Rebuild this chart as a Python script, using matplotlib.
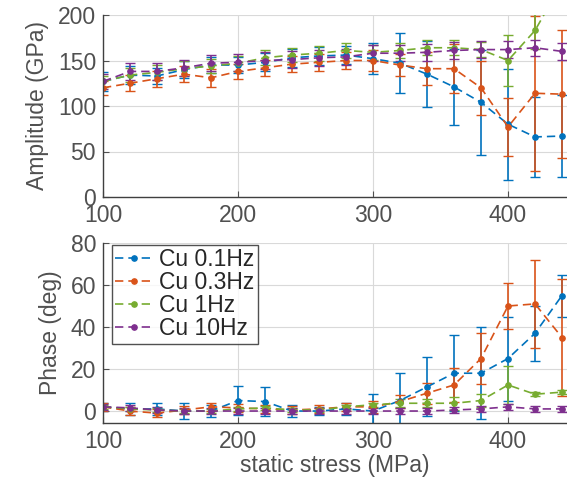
import matplotlib
matplotlib.use('Agg')
import matplotlib.pyplot as plt
import numpy as np

plt.rcParams['font.family'] = ['Liberation Sans', 'DejaVu Sans']

stress = [100, 120, 140, 160, 180, 200, 220, 240, 260, 280, 300, 320, 340, 360, 380, 400, 420, 440]
labels = ['Cu 0.1Hz', 'Cu 0.3Hz', 'Cu 1Hz', 'Cu 10Hz']
colors = ['#0072BD', '#D95319', '#77AC30', '#7E2F8E']

# amplitude (GPa)
amp_01 = [127, 134, 133, 140, 145, 145, 148, 153, 155, 156, 152, 147, 135, 121, 104, 80, 66, 67]
amp_01_err = [10, 10, 9, 9, 9, 9, 10, 10, 10, 10, 17, 33, 36, 42, 58, 61, 44, 45]
amp_03 = [120, 125, 130, 135, 131, 138, 142, 146, 148, 150, 150, 145, 141, 141, 120, 77, 114, 113]
amp_03_err = [8, 9, 9, 9, 10, 8, 9, 9, 9, 9, 12, 12, 18, 27, 30, 32, 85, 70]
amp_1 = [127, 134, 137, 141, 144, 147, 153, 156, 158, 161, 159, 161, 164, 164, 162, 150, 183, 235]
amp_1_err = [6, 8, 8, 8, 8, 8, 8, 8, 8, 8, 8, 8, 8, 8, 8, 28, 20, 20]
amp_10 = [127, 138, 138, 142, 147, 148, 150, 151, 153, 154, 158, 158, 159, 161, 162, 162, 164, 160]
amp_10_err = [8, 9, 9, 9, 9, 9, 9, 9, 9, 9, 9, 9, 9, 9, 9, 9, 9, 9]

# phase (deg)
ph_01 = [2, 1, 1, 0, 0, 5, 4.5, 0, 0, 1, 0, 5, 11.5, 18, 18, 25, 37, 55]
ph_01_err = [2, 3, 3, 4, 3, 7, 7, 3, 2, 3, 8, 13, 14, 18, 22, 20, 13, 10]
ph_03 = [2, 0, -1, 0.5, 2, 1.5, 1, 0.5, 1, 2, 2, 4.5, 8.5, 12.4, 25, 50, 51, 35]
ph_03_err = [2, 2, 2, 2, 2, 2, 2, 2, 2, 2, 3, 3, 5, 8, 12, 11, 21, 28]
ph_1 = [2, 1, 0.5, 0, 0, 1, 1.5, 0.5, 0.5, 2, 3, 3.7, 3.7, 3.7, 5, 12.4, 8, 9]
ph_1_err = [1, 1, 1, 1, 1, 1, 1, 1, 1, 1, 1, 2, 2, 3, 3, 9, 1, 1]
ph_10 = [2, 1.5, 0.5, 0, 0, 0, 0, 0, 0, 0, 0, 0, 0, 0.5, 1, 2, 1, 1]
ph_10_err = [1.5] * 18

amps = [(amp_01, amp_01_err), (amp_03, amp_03_err), (amp_1, amp_1_err), (amp_10, amp_10_err)]
phases = [(ph_01, ph_01_err), (ph_03, ph_03_err), (ph_1, ph_1_err), (ph_10, ph_10_err)]

txt = '#505050'
fig = plt.figure(figsize=(5.67, 4.8), dpi=100)
ax1 = fig.add_axes([103 / 567, 1 - 197 / 480, 464 / 567, 182 / 480])
ax2 = fig.add_axes([103 / 567, 1 - 423 / 480, 464 / 567, 180 / 480])


def draw(ax, series):
    for (y, e), c, lab in zip(series, colors, labels):
        ax.errorbar(stress, y, yerr=e, color=c, linestyle='--', linewidth=1.2,
                    marker='o', markersize=3.8, capsize=3.5, elinewidth=1.2,
                    label=lab, dashes=(5, 3))
    ax.grid(True, color='#d9d9d9', linewidth=0.8)
    ax.set_axisbelow(True)
    for s in ['top', 'right']:
        ax.spines[s].set_visible(False)
    for s in ['left', 'bottom']:
        ax.spines[s].set_color('#404040')
        ax.spines[s].set_linewidth(1.0)
    ax.tick_params(direction='in', labelsize=16.5, colors=txt, length=4)
    ax.tick_params(axis='y', pad=5)
    ax.tick_params(axis='x', pad=5)
    ax.set_xlim(100, 443.7)
    ax.set_xticks([100, 200, 300, 400])


draw(ax1, amps)
ax1.set_ylim(0, 200)
ax1.set_yticks([0, 50, 100, 150, 200])
ax1.set_ylabel('Amplitude (GPa)', fontsize=16.5, color=txt, labelpad=6)

draw(ax2, phases)
ax2.set_ylim(-5.7, 80)
ax2.set_yticks([0, 20, 40, 60, 80])
ax2.set_ylabel('Phase (deg)', fontsize=16.5, color=txt, labelpad=6)
ax2.set_xlabel('static stress (MPa)', fontsize=16.5, color=txt, labelpad=1)

h, l = ax2.get_legend_handles_labels()
leg = ax2.legend([x[0] for x in h], l, loc='upper left', fontsize=16.5, frameon=True,
                 fancybox=False, edgecolor='#262626', handlelength=1.6,
                 bbox_to_anchor=(9 / 464, 1 - 2 / 180), borderaxespad=0,
                 labelspacing=0.0, borderpad=0.15, handletextpad=0.3)
leg.get_frame().set_linewidth(1.0)
for t in leg.get_texts():
    t.set_color('#262626')

fig.savefig('out.png', dpi=100)
